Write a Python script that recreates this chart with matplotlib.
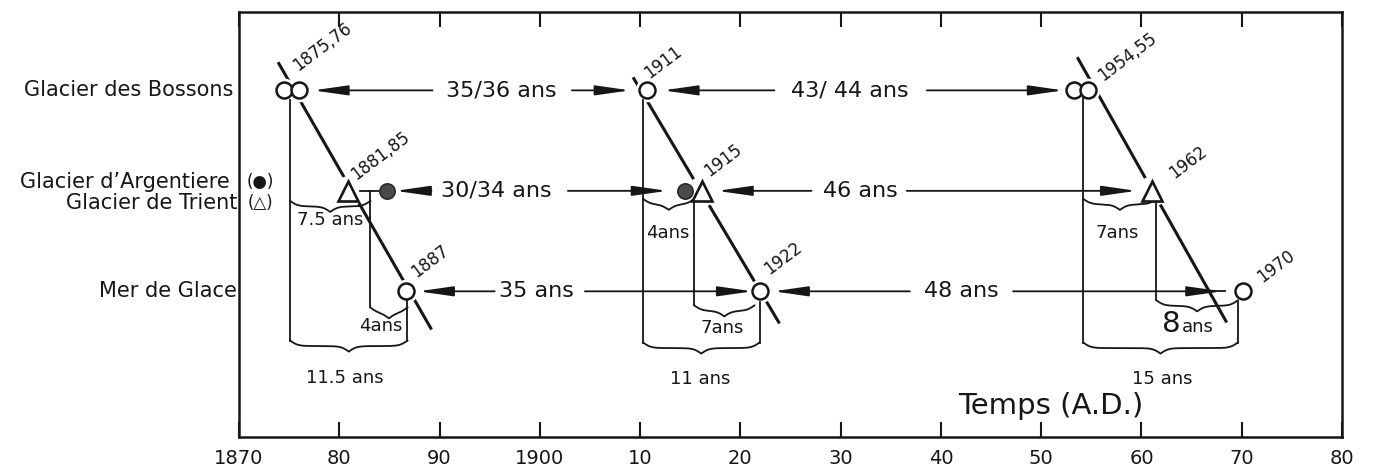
import matplotlib.pyplot as plt
import numpy as np

plt.rcParams['font.family'] = ['DejaVu Sans']
INK = '#161616'

bossons_x = [1874.5, 1876.0, 1910.7, 1953.3, 1954.7]
argentiere_x = [1884.8, 1914.5]
trient_x = [1880.9, 1916.2, 1961.1]
merdeglace_x = [1886.7, 1922.0, 1970.1]

row_bossons = 3
row_argentiere = 2
row_merdeglace = 1

# year labels next to the markers
date_text = ["1875,76", "1881,85", "1887", "1911", "1915", "1922", "1954,55", "1962", "1970"]
date_x = [1878.3, 1884.1, 1889.0, 1912.3, 1918.3, 1924.3, 1958.6, 1964.6, 1973.4]
date_y = [3.43, 2.35, 1.30, 3.28, 2.30, 1.33, 3.33, 2.28, 1.25]

# intervals between advances (double arrows with text)
gap_text = ["35/36 ans", "43/ 44 ans", "30/34 ans", "46 ans", "35 ans", "48 ans"]
gap_row = [3, 3, 2, 2, 1, 1]
gap_text_x = [1896.2, 1930.9, 1895.7, 1932.0, 1899.7, 1942.0]
gap_left_tip = [1877.4, 1912.3, 1885.6, 1917.7, 1887.9, 1923.3]
gap_left_tail = [1889.3, 1923.4, 1889.2, 1927.1, 1895.5, 1936.9]
gap_right_tail = [1903.2, 1938.6, 1902.8, 1936.6, 1904.5, 1947.2]
gap_right_tip = [1909.0, 1952.2, 1912.7, 1959.5, 1921.2, 1968.0]

# lags between glaciers (braces)
brace_x0 = [1875.1, 1883.1, 1875.1, 1910.3, 1915.4, 1910.3, 1954.2, 1961.5, 1954.2]
brace_x1 = [1883.1, 1886.8, 1886.8, 1915.4, 1921.4, 1921.9, 1961.5, 1969.6, 1969.6]
brace_y = [1.90, 0.84, 0.51, 1.92, 0.86, 0.49, 1.92, 0.91, 0.49]
brace_text = ["7.5 ans", "4ans", "11.5 ans", "4ans", "7ans", "11 ans", "7ans", "8ans", "15 ans"]
brace_text_x = [1879.1, 1884.1, 1880.6, 1912.8, 1918.2, 1916.0, 1957.6, 1965.0, 1962.1]
brace_text_y = [1.71, 0.65, 0.14, 1.58, 0.63, 0.13, 1.58, 0.60, 0.13]

# vertical drop lines
drop_x = [1875.1, 1883.1, 1886.8, 1910.3, 1915.4, 1922.0, 1954.2, 1961.5, 1969.6]
drop_top = [2.90, 2.00, 0.92, 2.90, 1.93, 0.89, 2.92, 1.93, 0.90]
drop_bottom = [0.51, 0.84, 0.51, 0.49, 0.86, 0.49, 0.49, 0.91, 0.49]

# sloping lines linking the advances of the glaciers
diag_x0 = [1873.9, 1909.3, 1953.6]
diag_y0 = [3.28, 3.13, 3.33]
diag_x1 = [1889.2, 1923.9, 1968.5]
diag_y1 = [0.62, 0.68, 0.69]

xticks = list(range(1870, 1990, 10))
xtick_labels = ["1870", "80", "90", "1900", "10", "20", "30", "40", "50", "60", "70", "80"]


def draw_brace(ax, x0, x1, y_end, depth=0.11):
    n = 301
    x = np.linspace(x0, x1, n)
    half = x[:n // 2 + 1]
    beta = 2.6
    yh = 1 / (1 + np.exp(-beta * (half - half[0]))) + 1 / (1 + np.exp(-beta * (half - half[-1])))
    yy = np.concatenate((yh, yh[-2::-1]))
    ax.plot(x, y_end - depth * (yy - 0.5), color=INK, lw=1.3, zorder=4)


fig = plt.figure(figsize=(13.75, 4.74), dpi=100)
ax = fig.add_axes([239 / 1375, 1 - 437 / 474, 1103 / 1375, 425 / 474])
ax.set_xlim(1870, 1980)
ax.set_ylim(-0.45, 3.78)

# sloping lines
for x0, y0, x1, y1 in zip(diag_x0, diag_y0, diag_x1, diag_y1):
    ax.plot([x0, x1], [y0, y1], color=INK, lw=2.2, zorder=2, solid_capstyle='butt')

# white halos to break the sloping lines around the markers
halo_x = bossons_x + argentiere_x + merdeglace_x
halo_y = [row_bossons] * len(bossons_x) + [row_argentiere] * len(argentiere_x) + [row_merdeglace] * len(merdeglace_x)
ax.plot(halo_x, halo_y, 'o', ms=16, color='white', mec='white', zorder=3, ls='none')
ax.plot(trient_x, [row_argentiere] * len(trient_x), 'o', ms=21, color='white', mec='white', zorder=3, ls='none')

# drop lines
for x, y0, y1 in zip(drop_x, drop_top, drop_bottom):
    ax.plot([x, x], [y0, y1], color=INK, lw=1.3, zorder=4)
ax.plot([1882.1, 1884.2], [2, 2], color=INK, lw=1.3, zorder=4)

# braces and their labels
for x0, x1, yb, t, tx, ty in zip(brace_x0, brace_x1, brace_y, brace_text, brace_text_x, brace_text_y):
    draw_brace(ax, x0, x1, yb)
    if t == "8ans":
        ax.text(tx - 1.1, ty, "8", fontsize=21, ha='right', va='baseline', color=INK, zorder=6)
        ax.text(tx - 1.0, ty, "ans", fontsize=13, ha='left', va='baseline', color=INK, zorder=6)
    else:
        ax.text(tx, ty, t, fontsize=13, ha='center', va='center', color=INK, zorder=6)

# interval arrows
arrow_style = dict(arrowstyle='-|>,head_length=2.1,head_width=0.3', color=INK, lw=1.3,
                   shrinkA=0, shrinkB=0, mutation_scale=10)
for t, r, tx, lt, ll, rl, rt in zip(gap_text, gap_row, gap_text_x, gap_left_tip, gap_left_tail,
                                    gap_right_tail, gap_right_tip):
    ax.annotate("", xy=(lt, r), xytext=(ll, r), arrowprops=arrow_style, zorder=4)
    ax.annotate("", xy=(rt, r), xytext=(rl, r), arrowprops=arrow_style, zorder=4)
    ax.text(tx, r, t, fontsize=16, ha='center', va='center', color=INK, zorder=6)
# the 1970 arrow line runs a little past its head
ax.plot([1967.0, 1968.3], [1, 1], color=INK, lw=1.3, zorder=4)

# markers
ax.plot(bossons_x, [row_bossons] * len(bossons_x), 'o', ms=11.5, mfc='white', mec=INK, mew=1.8,
        ls='none', zorder=5)
ax.plot(merdeglace_x, [row_merdeglace] * len(merdeglace_x), 'o', ms=11.5, mfc='white', mec=INK,
        mew=1.8, ls='none', zorder=5)
ax.plot(argentiere_x, [row_argentiere] * len(argentiere_x), 'o', ms=11, mfc='#4a4a4a', mec='#2a2a2a',
        mew=1.2, ls='none', zorder=5)
ax.plot(trient_x, [row_argentiere] * len(trient_x), '^', ms=14, mfc='white', mec=INK, mew=1.9,
        ls='none', zorder=5)

# year labels
for t, x, y in zip(date_text, date_x, date_y):
    ax.text(x, y, t, fontsize=12, rotation=37, ha='center', va='center', color=INK, zorder=6)

# row labels
ax.text(1869.4, 3, "Glacier des Bossons", fontsize=15, ha='right', va='center', color=INK, clip_on=False)
ax.text(1869.1, 2.085, "Glacier d\u2019Argentiere", fontsize=15, ha='right', va='center', color=INK,
        clip_on=False)
ax.text(1872.1, 2.085, "(\u25cf)", fontsize=12, ha='center', va='center', color=INK, clip_on=False)
ax.text(1869.8, 1.88, "Glacier de Trient", fontsize=15, ha='right', va='center', color=INK, clip_on=False)
ax.text(1872.1, 1.88, "(\u25b3)", fontsize=12, ha='center', va='center', color=INK, clip_on=False)
ax.text(1869.8, 1, "Mer de Glace", fontsize=15, ha='right', va='center', color=INK, clip_on=False)

ax.text(1951.0, -0.14, "Temps (A.D.)", fontsize=21, ha='center', va='center', color=INK)

# axes frame and ticks
for s in ax.spines.values():
    s.set_linewidth(1.8)
    s.set_color(INK)
ax.set_yticks([])
ax.set_xticks(xticks)
ax.set_xticklabels(xtick_labels, fontsize=14, color=INK)
ax.tick_params(axis='x', direction='in', length=11, width=1.5, top=True, bottom=True, pad=9,
               colors=INK)

fig.savefig("out.png", dpi=100)
